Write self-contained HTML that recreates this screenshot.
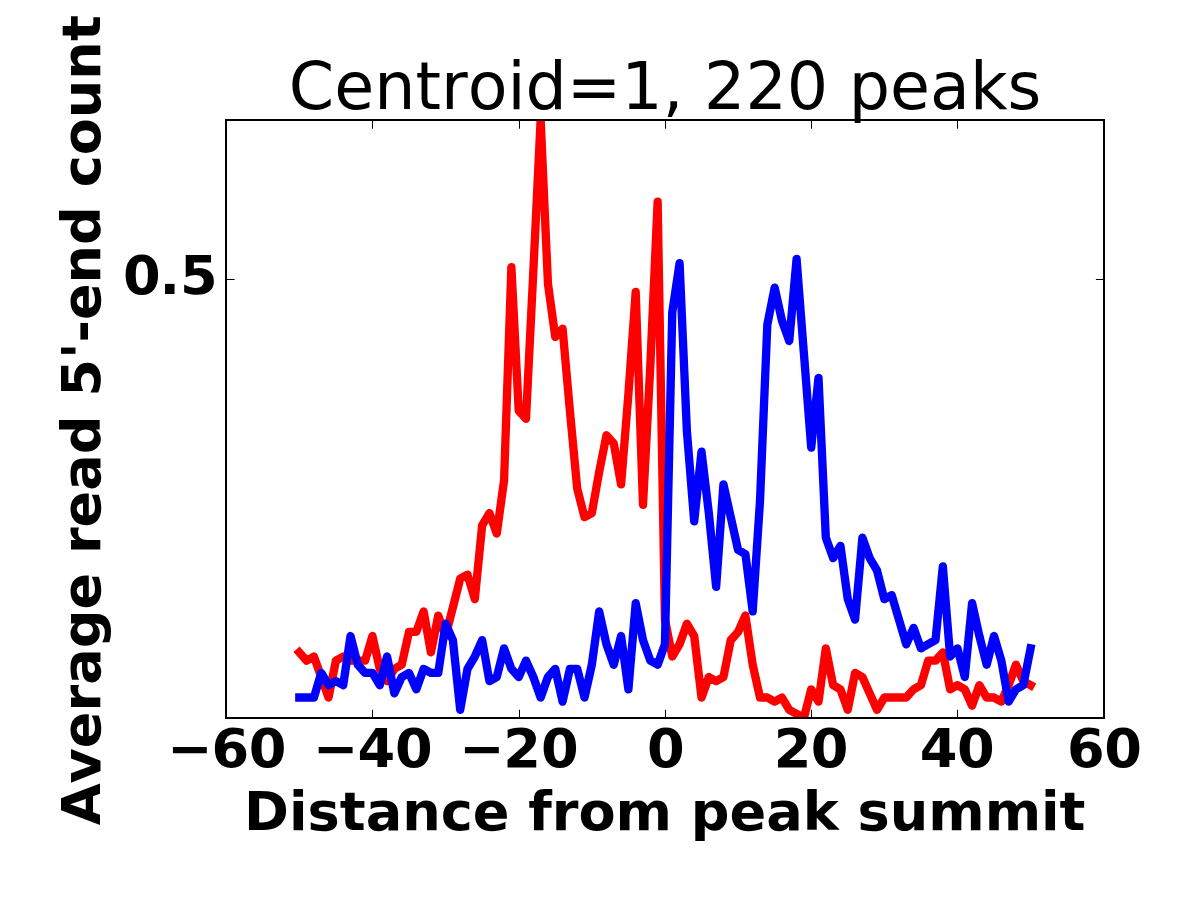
<!DOCTYPE html>
<html lang="en">
<head>
<meta charset="utf-8">
<title>Centroid=1, 220 peaks</title>
<style>
html,body{margin:0;padding:0;background:#fff;}
body{width:1200px;height:900px;overflow:hidden;}
svg{display:block;}
text{font-kerning:none;font-family:"DejaVu Sans","Liberation Sans",sans-serif;fill:#000;}
.b{font-weight:bold;font-size:54.17px;}
.t{font-weight:normal;font-size:65px;}
</style>
</head>
<body>
<svg width="1200" height="900" viewBox="0 0 1200 900">
<rect x="0" y="0" width="1200" height="900" fill="#ffffff"/>
<defs><clipPath id="ax"><rect x="226.0" y="120.0" width="878.0" height="598.0"/></clipPath></defs>
<g clip-path="url(#ax)" fill="none" stroke-width="8.33" stroke-linejoin="round" stroke-linecap="square">
<polyline stroke="#ff0000" points="299.32,652.43 306.64,660.63 313.95,656.53 321.26,677.02 328.57,697.51 335.89,660.63 343.20,656.53 350.51,660.63 357.82,660.63 365.14,660.63 372.45,636.04 379.76,668.82 387.07,681.12 394.39,668.82 401.70,664.73 409.01,631.94 416.32,631.94 423.64,611.45 430.95,652.43 438.26,615.55 445.57,636.04 452.89,607.35 460.20,578.67 467.51,574.57 474.82,599.16 482.14,525.39 489.45,513.10 496.76,533.59 504.07,480.32 511.39,267.22 518.70,410.65 526.01,418.85 533.33,271.32 540.64,119.69 547.95,283.61 555.26,336.89 562.58,328.69 569.89,410.65 577.20,488.51 584.51,517.20 591.83,513.10 599.14,472.12 606.45,435.24 613.76,443.43 621.08,484.41 628.39,394.26 635.70,291.81 643.01,504.90 650.33,365.57 657.64,201.65 664.95,619.65 672.26,656.53 679.58,644.24 686.89,623.75 694.20,636.04 701.51,697.51 708.83,677.02 716.14,681.12 723.45,677.02 730.76,640.14 738.08,631.94 745.39,615.55 752.70,664.73 760.01,697.51 767.33,697.51 774.64,701.61 781.95,697.51 789.26,709.80 796.58,713.90 803.89,718.00 811.20,689.31 818.51,701.61 825.83,648.33 833.14,685.22 840.45,689.31 847.76,709.80 855.08,672.92 862.39,677.02 869.70,693.41 877.01,709.80 884.33,697.51 891.64,697.51 898.95,697.51 906.26,697.51 913.58,689.31 920.89,685.22 928.20,660.63 935.51,660.63 942.83,652.43 950.14,689.31 957.45,685.22 964.76,689.31 972.08,705.71 979.39,685.22 986.70,697.51 994.01,697.51 1001.33,701.61 1008.64,685.22 1015.95,664.73 1023.26,681.12 1030.58,685.22"/>
<polyline stroke="#0000ff" points="299.32,697.51 306.64,697.51 313.95,697.51 321.26,672.92 328.57,685.22 335.89,681.12 343.20,685.22 350.51,636.04 357.82,664.73 365.14,672.92 372.45,672.92 379.76,685.22 387.07,656.53 394.39,693.41 401.70,677.02 409.01,672.92 416.32,689.31 423.64,668.82 430.95,672.92 438.26,672.92 445.57,623.75 452.89,640.14 460.20,709.80 467.51,668.82 474.82,656.53 482.14,640.14 489.45,681.12 496.76,677.02 504.07,648.33 511.39,668.82 518.70,677.02 526.01,660.63 533.33,677.02 540.64,697.51 547.95,677.02 555.26,668.82 562.58,701.61 569.89,668.82 577.20,668.82 584.51,697.51 591.83,664.73 599.14,611.45 606.45,644.24 613.76,664.73 621.08,636.04 628.39,689.31 635.70,603.26 643.01,640.14 650.33,660.63 657.64,664.73 664.95,644.24 672.26,312.30 679.58,263.12 686.89,431.14 694.20,521.30 701.51,451.63 708.83,513.10 716.14,586.86 723.45,484.41 730.76,517.20 738.08,549.98 745.39,554.08 752.70,611.45 760.01,500.81 767.33,324.59 774.64,287.71 781.95,320.49 789.26,340.98 796.58,259.02 803.89,353.28 811.20,447.53 818.51,377.87 825.83,537.69 833.14,558.18 840.45,545.88 847.76,599.16 855.08,619.65 862.39,537.69 869.70,558.18 877.01,570.47 884.33,599.16 891.64,595.06 898.95,619.65 906.26,644.24 913.58,627.84 920.89,648.33 928.20,644.24 935.51,640.14 942.83,566.37 950.14,656.53 957.45,648.33 964.76,677.02 972.08,603.26 979.39,636.04 986.70,664.73 994.01,636.04 1001.33,660.63 1008.64,701.61 1015.95,689.31 1023.26,685.22 1030.58,648.33"/>
</g>
<g fill="#000" stroke="none">
<rect x="372" y="709.75" width="1" height="8.25"/>
<rect x="372" y="120" width="1" height="8.7"/>
<rect x="519" y="709.75" width="1" height="8.25"/>
<rect x="519" y="120" width="1" height="8.7"/>
<rect x="665" y="709.75" width="1" height="8.25"/>
<rect x="665" y="120" width="1" height="8.7"/>
<rect x="811" y="709.75" width="1" height="8.25"/>
<rect x="811" y="120" width="1" height="8.7"/>
<rect x="957" y="709.75" width="1" height="8.25"/>
<rect x="957" y="120" width="1" height="8.7"/>
<rect x="226" y="279" width="8.65" height="1"/>
<rect x="1095.9" y="279" width="8.1" height="1"/>
</g>
<rect x="226.0" y="120.0" width="878.0" height="598.0" fill="none" stroke="#000" stroke-width="2" shape-rendering="crispEdges"/>
<g class="b">
<text x="166.88 211.44 248.83" y="766.90">−60</text>
<text x="312.86 357.46 395.03" y="766.90">−40</text>
<text x="458.94 503.16 541.09" y="766.90">−20</text>
<text x="647.05" y="766.90">0</text>
<text x="773.63 810.83" y="766.90">20</text>
<text x="919.66 957.07" y="766.90">40</text>
<text x="1066.90 1104.30" y="766.90">60</text>
<text x="123.01 159.51 180.10" y="293.90">0.5</text>
<text transform="translate(664.8,830.3) scale(1,1.0)" text-anchor="middle" textLength="841.4" lengthAdjust="spacing">Distance from peak summit</text>
<text transform="translate(99.75,420.25) rotate(-90) scale(1,1.0)" text-anchor="middle" textLength="810.07" lengthAdjust="spacing">Average read 5'-end count</text>
</g>
<text class="t" x="665.15" y="108.9" text-anchor="middle" textLength="752.6" lengthAdjust="spacing">Centroid=1, 220 peaks</text>
</svg>
</body>
</html>
